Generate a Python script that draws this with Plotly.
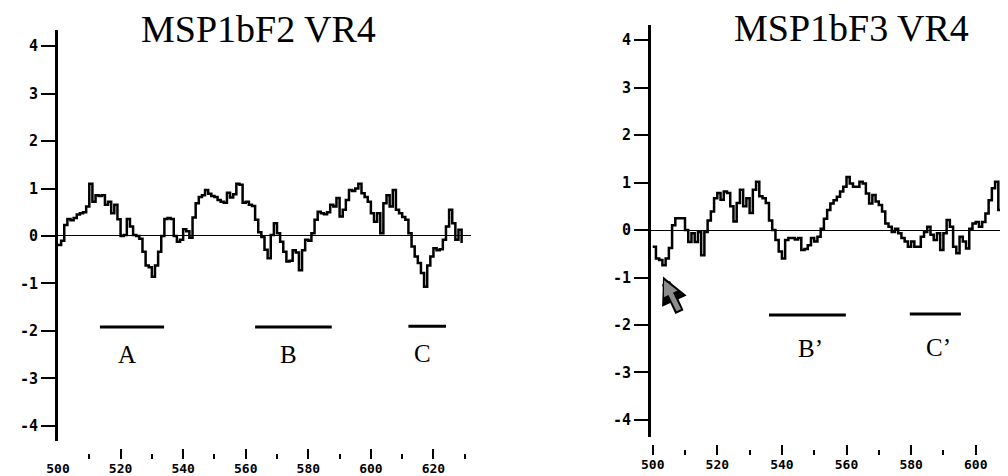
import plotly.graph_objects as go

# ---- data ----
f2_start = 500
f2_values = [-0.19, -0.1, 0.23, 0.36, 0.33, 0.38, 0.45, 0.48, 0.5, 0.62,
             1.1, 0.72, 0.86, 0.84, 0.86, 0.66, 0.72, 0.48, 0.66, 0.35,
             0.0, 0.02, 0.36, 0.2, 0.02, 0.0, -0.06, -0.33, -0.62, -0.66,
             -0.86, -0.62, -0.33, 0.0, 0.36, 0.38, 0.36, 0.0, -0.12, -0.08,
             0.14, 0.1, -0.04, 0.39, 0.69, 0.82, 0.86, 0.97, 0.89, 0.84,
             0.82, 0.76, 0.72, 0.7, 0.91, 0.81, 0.88, 1.1, 1.08, 0.7,
             0.72, 0.66, 0.63, 0.34, 0.08, -0.02, -0.29, -0.47, 0.02, 0.27,
             0.06, -0.12, -0.33, -0.54, -0.52, -0.3, -0.35, -0.72, -0.3, -0.08,
             -0.1, 0.06, 0.34, 0.51, 0.48, 0.46, 0.5, 0.66, 0.62, 0.8,
             0.41, 0.55, 0.76, 0.97, 0.95, 1.0, 1.1, 0.9, 0.82, 0.72,
             0.48, 0.3, 0.48, 0.06, 0.69, 0.86, 0.62, 0.97, 0.55, 0.48,
             0.4, 0.34, 0.06, -0.22, -0.43, -0.57, -0.78, -1.07, -0.62, -0.43,
             -0.26, -0.3, -0.28, -0.08, 0.2, 0.55, 0.27, -0.08, 0.13, -0.15]
f2_residues = list(range(f2_start, f2_start + len(f2_values)))

f3_start = 500
f3_values = [-0.35, -0.6, -0.63, -0.74, -0.6, -0.38, 0.1, 0.25, 0.25, 0.25,
             0.0, -0.25, -0.07, -0.25, -0.04, -0.53, -0.04, 0.2, 0.39, 0.67,
             0.78, 0.64, 0.81, 0.78, 0.5, 0.18, 0.57, 0.85, 0.5, 0.67,
             0.36, 0.85, 1.02, 0.71, 0.67, 0.57, 0.2, 0.0, -0.21, -0.45,
             -0.6, -0.21, -0.17, -0.17, -0.2, -0.17, -0.42, -0.4, -0.32, -0.17,
             -0.24, -0.14, 0.03, 0.24, 0.42, 0.56, 0.63, 0.7, 0.81, 0.91,
             1.12, 0.98, 0.91, 0.91, 1.02, 0.98, 0.77, 0.56, 0.74, 0.6,
             0.53, 0.39, 0.14, 0.07, -0.04, 0.03, -0.07, -0.17, -0.24, -0.35,
             -0.24, -0.35, -0.35, -0.14, -0.04, 0.07, -0.1, -0.21, -0.07, -0.42,
             -0.07, 0.21, 0.07, -0.35, -0.49, -0.14, -0.24, -0.39, 0.03, 0.14,
             0.17, 0.07, 0.17, 0.35, 0.63, 0.88, 1.02, 0.42, 0.13, 0.4, 0.45]
f3_residues = list(range(f3_start, f3_start + len(f3_values)))

# segments: (label, start, end, bar level)
f2_segments = [("A", 513.4, 533.9, -1.92), ("B", 563.0, 587.5, -1.92), ("C", 612.0, 624.0, -1.9)]
f3_segments = [("B\u2019", 536.0, 559.8, -1.79), ("C\u2019", 579.6, 595.4, -1.77)]

y_ticks = [-4, -3, -2, -1, 0, 1, 2, 3, 4]
f2_xticks = [500, 520, 540, 560, 580, 600, 620]
f2_xminor = [510, 530, 550, 570, 590, 610, 630]
f3_xticks = [500, 520, 540, 560, 580, 600]
f3_xminor = [510, 530, 550, 570, 590, 610]

titles = ["MSP1bF2 VR4", "MSP1bF3 VR4"]

# page offset (body margin) compensation
OFF = 8
W, H = 1000, 468


def px(p):
    return (p - OFF) / W


def py(p):
    return 1 - (p - OFF) / H


tickfont = dict(family="DejaVu Sans Mono", size=15, color="black", weight="bold")
xtickfont = dict(family="DejaVu Sans Mono", size=13, color="black", weight="bold")
serif = "Liberation Serif"

fig = go.Figure()

fig.add_trace(go.Scatter(x=f2_residues, y=f2_values, mode="lines", line_shape="hv",
                         line=dict(color="black", width=2.5), xaxis="x", yaxis="y",
                         hoverinfo="skip"))
fig.add_trace(go.Scatter(x=f3_residues, y=f3_values, mode="lines", line_shape="hv",
                         line=dict(color="black", width=2.5), xaxis="x2", yaxis="y2",
                         hoverinfo="skip"))

annotations = []
for lab, s, e, lv in f2_segments:
    fig.add_trace(go.Scatter(x=[s, e], y=[lv, lv], mode="lines",
                             line=dict(color="black", width=3), xaxis="x", yaxis="y"))
    annotations.append(dict(x=(s + e) / 2 - 1.5, y=lv - 0.58, xref="x", yref="y", text=lab,
                            xanchor="center", yanchor="middle",
                            showarrow=False, font=dict(family=serif, size=25, color="black")))
for lab, s, e, lv in f3_segments:
    fig.add_trace(go.Scatter(x=[s, e], y=[lv, lv], mode="lines",
                             line=dict(color="black", width=3), xaxis="x2", yaxis="y2"))
    annotations.append(dict(x=(s + e) / 2 + 1.0, y=lv - 0.7, xref="x2", yref="y2", text=lab,
                            xanchor="center", yanchor="middle",
                            showarrow=False, font=dict(family=serif, size=25, color="black")))

# arrow in right panel (black outline + grey fill)
annotations.append(dict(x=503.2, y=-0.98, ax=508.5, ay=-1.76, xref="x2", yref="y2",
                        axref="x2", ayref="y2", text="", showarrow=True,
                        arrowhead=2, arrowsize=0.6, arrowwidth=9, arrowcolor="black"))
annotations.append(dict(x=503.5, y=-1.06, ax=508.3, ay=-1.72, xref="x2", yref="y2",
                        axref="x2", ayref="y2", text="", showarrow=True,
                        arrowhead=2, arrowsize=0.6, arrowwidth=5, arrowcolor="#8c8c8c"))

annotations.append(dict(x=px(258), y=py(29), xref="paper", yref="paper", text=titles[0],
                        xanchor="center", yanchor="middle",
                        showarrow=False, font=dict(family=serif, size=38, color="black")))
annotations.append(dict(x=px(851), y=py(28), xref="paper", yref="paper", text=titles[1],
                        xanchor="center", yanchor="middle",
                        showarrow=False, font=dict(family=serif, size=38, color="black")))

yax = dict(showline=True, linewidth=3, linecolor="black",
           ticks="outside", ticklen=14, tickwidth=2, tickcolor="black",
           tickvals=y_ticks, ticktext=[str(v) for v in y_ticks], tickfont=tickfont,
           zeroline=True, zerolinewidth=1.2, zerolinecolor="black", showgrid=False,
           automargin=False)

xax = dict(showline=False, showgrid=False, zeroline=False, ticks="inside", ticklen=10,
           tickwidth=2, tickcolor="black", tickfont=xtickfont, anchor="free",
           automargin=False)

fig.update_layout(
    template="none",
    width=W, height=H, margin=dict(l=0, r=0, t=0, b=0, pad=0, autoexpand=False),
    plot_bgcolor="white", paper_bgcolor="white", showlegend=False,
    xaxis=dict(xax, domain=[px(58), px(471)], range=[500, 632], position=py(459),
               tickvals=f2_xticks,
               minor=dict(tickvals=f2_xminor, ticks="inside", ticklen=5, tickwidth=2, tickcolor="black")),
    yaxis=dict(yax, domain=[py(441), py(30)], range=[-4.32, 4.34], anchor="x"),
    xaxis2=dict(xax, domain=[px(651), 1.0], range=[499.47, 499.47 + (1008 - 651) / 3.23],
                position=py(455), tickvals=f3_xticks,
                minor=dict(tickvals=f3_xminor, ticks="inside", ticklen=5, tickwidth=2, tickcolor="black")),
    yaxis2=dict(yax, domain=[py(437), py(25)], range=[-4.36, 4.32], anchor="x2"),
    annotations=annotations,
)

fig.write_html("out.html")
